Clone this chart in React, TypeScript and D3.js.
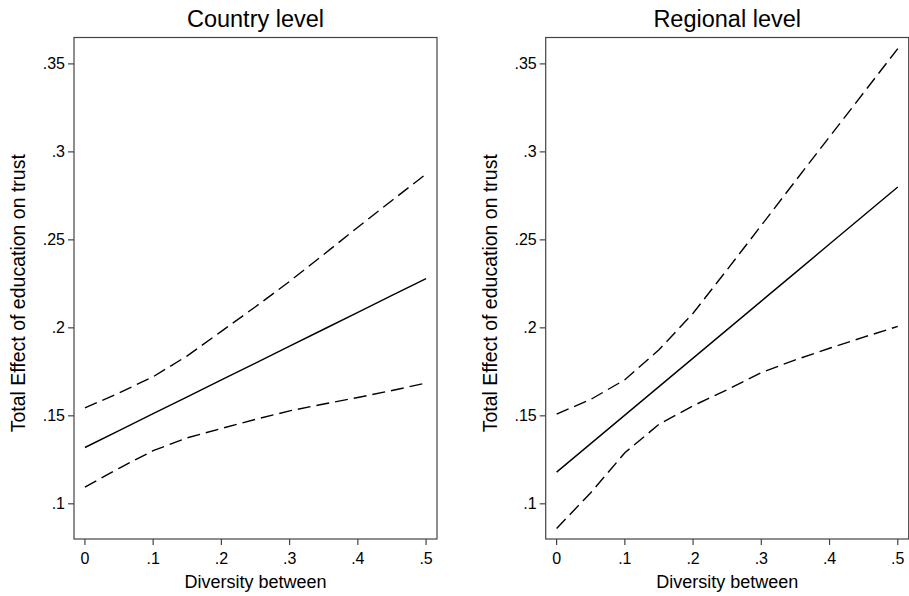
import React from "react";
import * as d3 from "d3";

// x grid the effects were evaluated on
const diversity = [0, 0.05, 0.1, 0.15, 0.2, 0.25, 0.3, 0.35, 0.4, 0.45, 0.5];

// Country level
const countryEffect = [0.132, 0.1416, 0.1512, 0.1608, 0.1704, 0.18, 0.1896, 0.1992, 0.2088, 0.2184, 0.228];
const countryUpper = [0.1545, 0.163, 0.1722, 0.1841, 0.198, 0.212, 0.2264, 0.2417, 0.2572, 0.2724, 0.2874];
const countryLower = [0.1095, 0.1202, 0.1302, 0.1375, 0.1428, 0.148, 0.1528, 0.1567, 0.1604, 0.1644, 0.1686];

// Regional level
const regionEffect = [0.118, 0.1342, 0.1504, 0.1666, 0.1828, 0.199, 0.2152, 0.2314, 0.2476, 0.2638, 0.28];
const regionUpper = [0.151, 0.1593, 0.1705, 0.1875, 0.2083, 0.2331, 0.2582, 0.2835, 0.3086, 0.3336, 0.3587];
const regionLower = [0.0860, 0.1063, 0.129, 0.1452, 0.1557, 0.1648, 0.1746, 0.1818, 0.1884, 0.1947, 0.2008];

const xTicks = [0, 0.1, 0.2, 0.3, 0.4, 0.5];
const yTicks = [0.1, 0.15, 0.2, 0.25, 0.3, 0.35];

const panels = [
  { title: "Country level", left: 74, mid: countryEffect, hi: countryUpper, lo: countryLower },
  { title: "Regional level", left: 545.7, mid: regionEffect, hi: regionUpper, lo: regionLower },
];

const fmt = (v: number) => (v === 0 ? "0" : d3.format(".2~f")(v).replace(/^0/, ""));

const FONT = "'Liberation Sans', Arial, Helvetica, sans-serif";

function Panel({ p }: { p: typeof panels[0] }) {
  const w = 363;
  const top = 37.5;
  const bottom = 539;
  const x = d3.scaleLinear().domain([-0.016, 0.516]).range([p.left, p.left + w]);
  const y = d3.scaleLinear().domain([0.08, 0.365]).range([bottom, top]);
  const line = (vals: number[]) =>
    d3.line<number>().x((_, i) => x(diversity[i])).y((d) => y(d))(vals) || "";

  return (
    <g>
      <text x={p.left + w / 2} y={27} textAnchor="middle" fontSize={23.5} fontFamily={FONT} fill="#000">
        {p.title}
      </text>
      <rect x={p.left} y={top} width={w} height={bottom - top} fill="none" stroke="#444" strokeWidth={1.2} />
      {yTicks.map((t) => (
        <g key={"y" + t}>
          <line x1={p.left - 6} x2={p.left} y1={y(t)} y2={y(t)} stroke="#444" strokeWidth={1.2} />
          <text x={p.left - 9} y={y(t)} dy="0.35em" textAnchor="end" fontSize={16} fontFamily={FONT}>
            {fmt(t)}
          </text>
        </g>
      ))}
      {xTicks.map((t) => (
        <g key={"x" + t}>
          <line x1={x(t)} x2={x(t)} y1={bottom} y2={bottom + 6} stroke="#444" strokeWidth={1.2} />
          <text x={x(t)} y={564} textAnchor="middle" fontSize={16} fontFamily={FONT}>
            {fmt(t)}
          </text>
        </g>
      ))}
      <text x={x(0.25)} y={588} textAnchor="middle" fontSize={18} fontFamily={FONT}>
        Diversity between
      </text>
      <text
        transform={`translate(${p.left - 49},${(top + bottom) / 2 + 5}) rotate(-90)`}
        textAnchor="middle"
        fontSize={19.5}
        fontFamily={FONT}
      >
        Total Effect of education on trust
      </text>
      <path d={line(p.hi)} fill="none" stroke="#000" strokeWidth={1.4} strokeDasharray="13,6" />
      <path d={line(p.lo)} fill="none" stroke="#000" strokeWidth={1.4} strokeDasharray="13,6" />
      <path d={line(p.mid)} fill="none" stroke="#000" strokeWidth={1.4} />
    </g>
  );
}

export default function App() {
  return (
    <svg
      width={909}
      height={596}
      style={{ position: "absolute", left: 0, top: 0, background: "#fff" }}
    >
      <rect width={909} height={596} fill="#fff" />
      {panels.map((p) => (
        <Panel key={p.title} p={p} />
      ))}
    </svg>
  );
}
